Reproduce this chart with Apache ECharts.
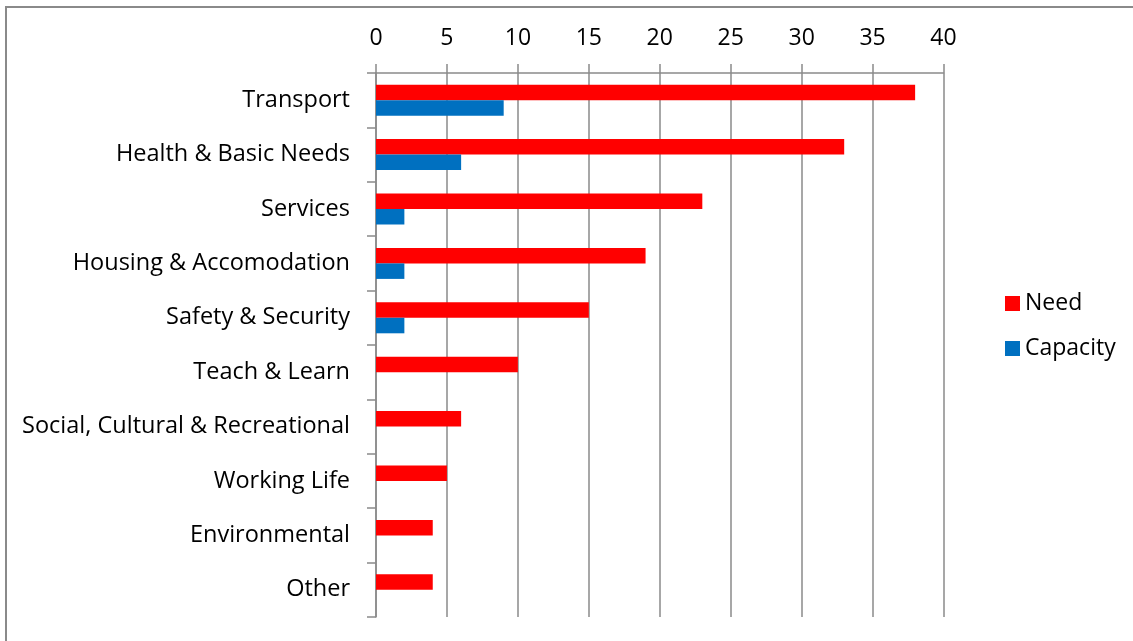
<!DOCTYPE html>
<html>
<head>
<meta charset="utf-8">
<script src="https://cdn.jsdelivr.net/npm/echarts@6/dist/echarts.min.js"></script>
<style>
html,body{margin:0;padding:0;background:#fff;}
#c{width:1133px;height:641px;}
</style>
</head>
<body>
<div id="c"></div>
<script>
const categories = ["Transport","Health & Basic Needs","Services","Housing & Accomodation","Safety & Security","Teach & Learn","Social, Cultural & Recreational","Working Life","Environmental","Other"];
const needValues = [38,33,23,19,15,10,6,5,4,4];
const capacityValues = [9,6,2,2,2,0,0,0,0,0];
const seriesNames = ["Need","Capacity"];

const FONT = "'Open Sans', sans-serif";
const GRAY = "#8a8a8a";
const chart = echarts.init(document.getElementById('c'), null, {renderer:'canvas'});
chart.setOption({
  animation:false,
  backgroundColor:'#fff',
  textStyle:{fontFamily:FONT},
  graphic:[
    {type:'polyline', shape:{points:[[6,641],[6,7],[1133,7]]}, style:{stroke:GRAY,lineWidth:2,fill:null}}
  ],
  legend:{
    orient:'vertical', left:1000, top:287,
    itemWidth:15, itemHeight:15, itemGap:22,
    icon:'rect',
    textStyle:{fontSize:23,color:'#000',fontFamily:FONT},
    data:seriesNames
  },
  grid:{left:376, right:189.5, top:73, bottom:24, containLabel:false},
  xAxis:{
    type:'value', position:'top', min:0, max:40, interval:5,
    axisLine:{show:true, lineStyle:{color:GRAY,width:1.5}},
    axisTick:{show:true, length:9, lineStyle:{color:GRAY,width:1.5}},
    axisLabel:{fontSize:23,color:'#000',margin:23,fontFamily:FONT},
    splitLine:{show:true, lineStyle:{color:GRAY,width:1.5}}
  },
  yAxis:{
    type:'category', data:categories, inverse:true,
    axisLine:{show:true, lineStyle:{color:GRAY,width:1.5}},
    axisTick:{show:true, length:9, lineStyle:{color:GRAY,width:1.5}},
    axisLabel:{fontSize:23.5,color:'#000',margin:26,fontFamily:FONT},
    splitLine:{show:false}
  },
  series:[
    {name:seriesNames[0], type:'bar', data:needValues, itemStyle:{color:'#FF0000'}, barGap:'0%', barCategoryGap:'43%'},
    {name:seriesNames[1], type:'bar', data:capacityValues, itemStyle:{color:'#0070C0'}, barGap:'0%', barCategoryGap:'43%'}
  ]
});
</script>
</body>
</html>
